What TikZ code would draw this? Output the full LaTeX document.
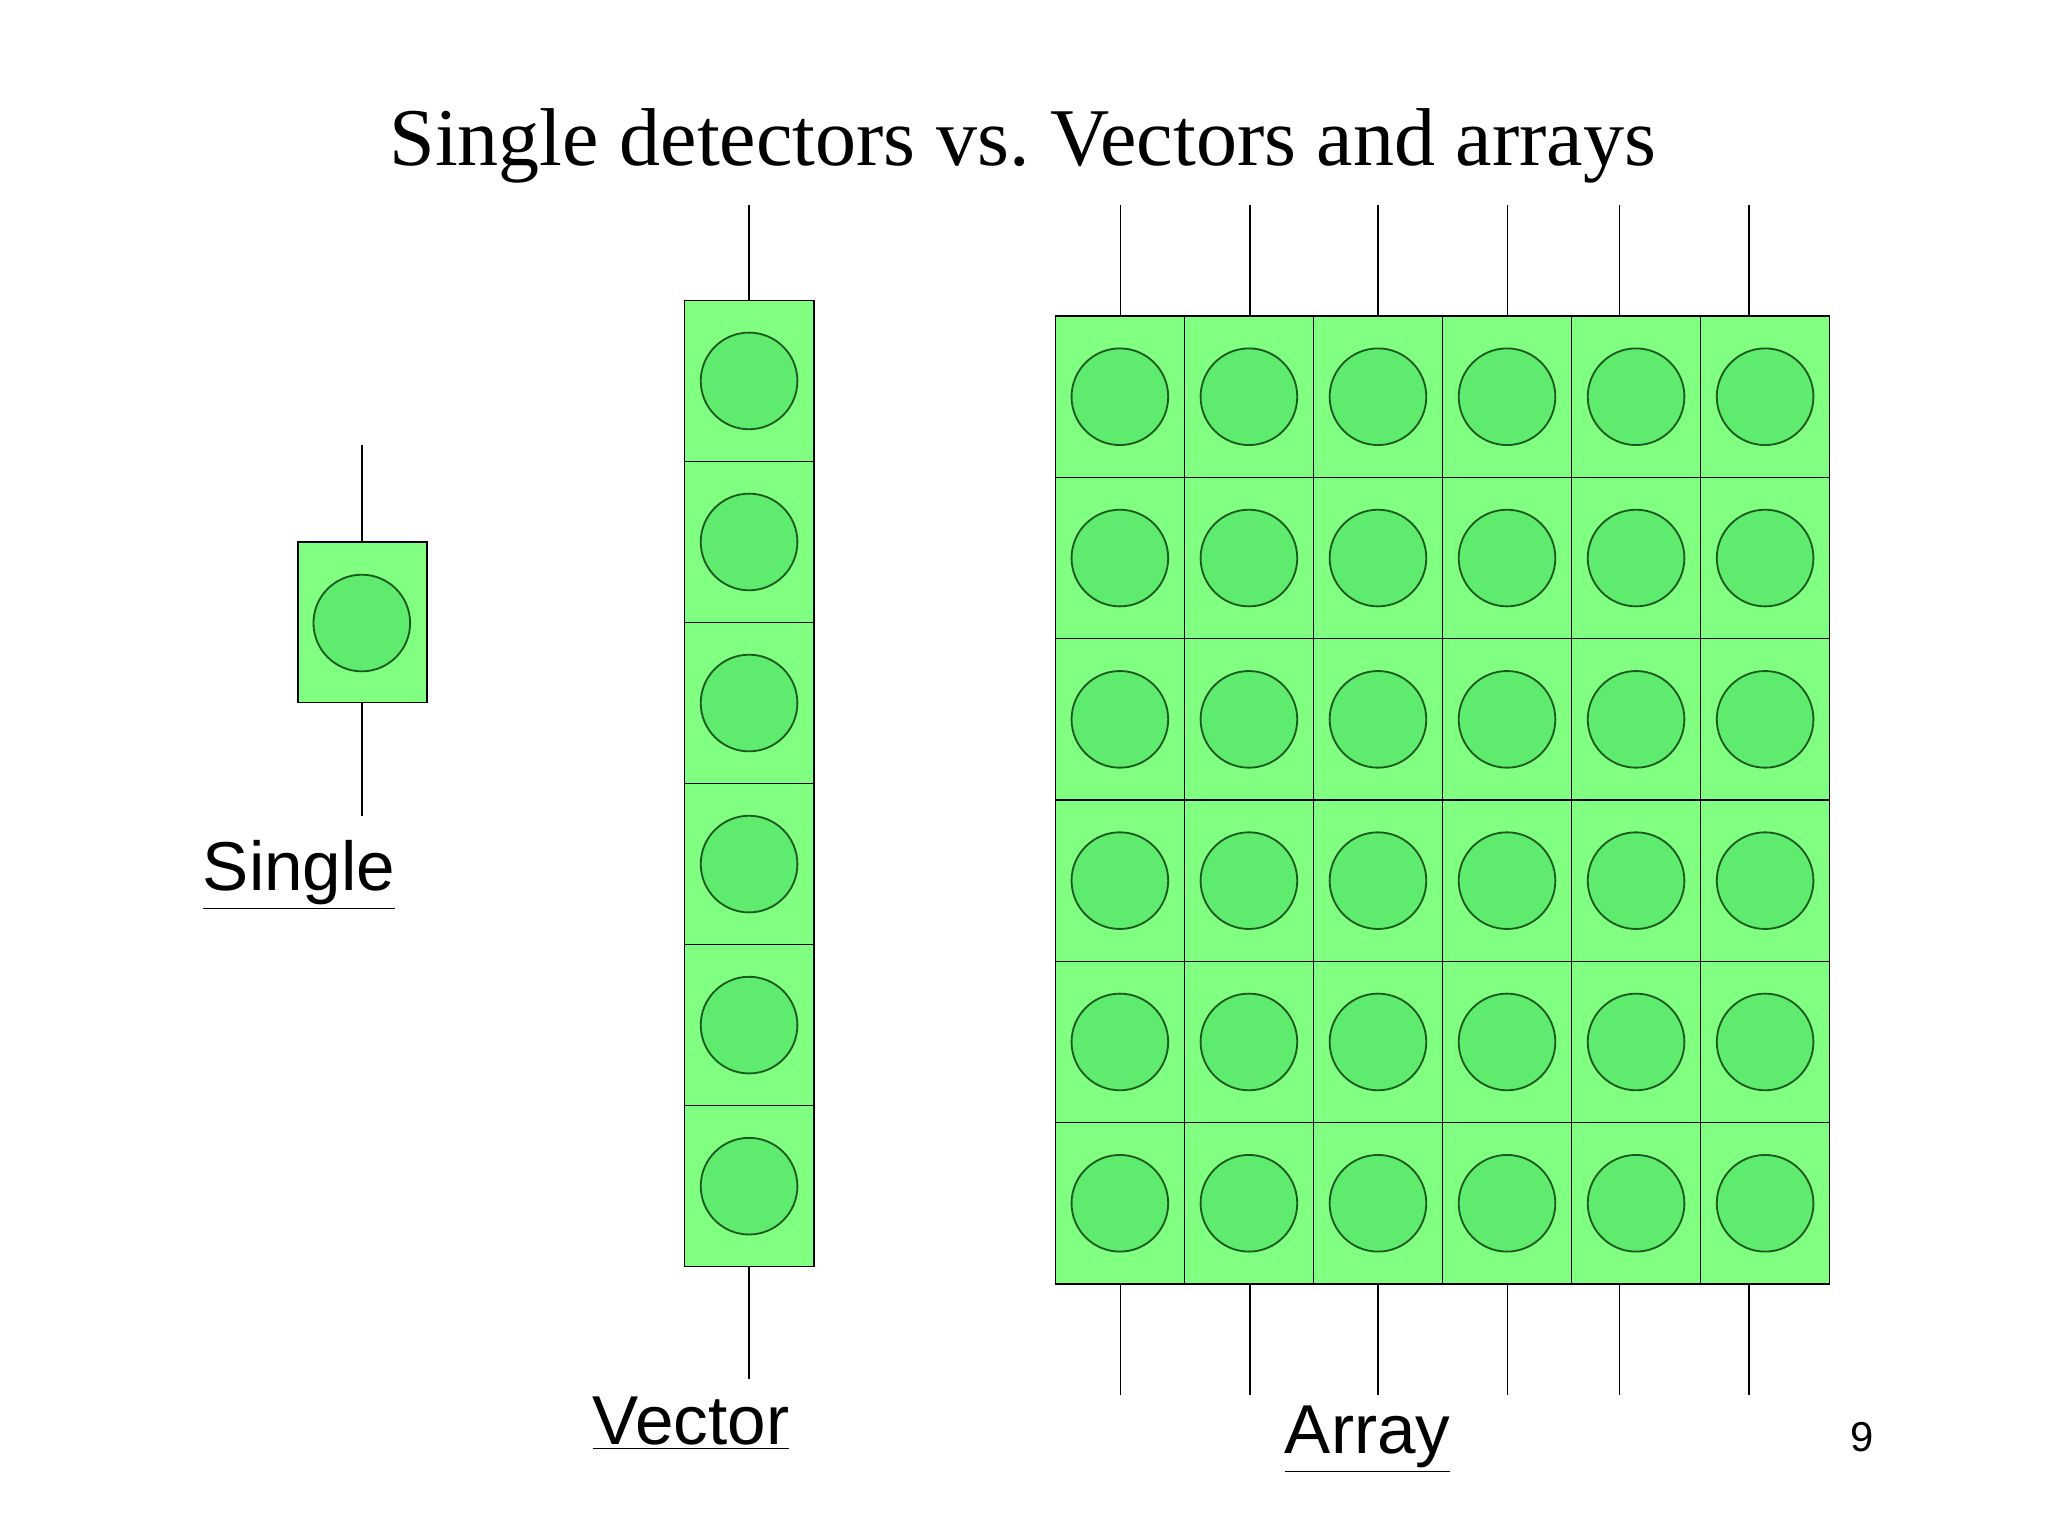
\documentclass[tikz,border=0pt]{standalone}
\usepackage{fontspec}
\setmainfont{Liberation Serif}
\setsansfont{Liberation Sans}
\definecolor{sqg}{HTML}{80FF80}
\definecolor{cig}{HTML}{5EEB6E}
\definecolor{cib}{HTML}{1A5A20}
\newcommand{\ulbl}[1]{\underline{#1}}
\begin{document}
\begin{tikzpicture}[x=0.5pt,y=-0.5pt,
  cell/.style={draw=black,fill=sqg,line width=0.6pt},
  disc/.style={draw=cib,fill=cig,line width=0.7pt},
  wire/.style={draw=black,line width=0.6pt},
  lbl/.style={font=\sffamily\fontsize{26.5}{30}\selectfont,inner sep=0pt}]
\useasboundingbox (0,0) rectangle (1568,1176);
\fill[white] (0,0) rectangle (1568,1176);
\node[font=\fontsize{31.4}{36}\selectfont] (title) at (783,112) {Single detectors vs.\ Vectors and arrays};
% single
\draw[cell] (228,415) rectangle (327,538);
\draw[disc] (277,477) circle (37);
\coordinate (s1) at (277,341); \coordinate (s2) at (277,415);
\coordinate (s3) at (277,538); \coordinate (s4) at (277,625);
\draw[wire] (s1) -- (s2); \draw[wire] (s3) -- (s4);
\node[lbl] (single) at (229,670) {\ulbl{Single}};
% vector
\foreach \r in {0,...,5}{
  \draw[cell] (524,{230+123.3*\r}) rectangle (623,{230+123.3*(\r+1)});
  \draw[disc] (573.5,{230+123.3*(\r+0.5)}) circle (37);
}
\coordinate (v1) at (573.5,157); \coordinate (v2) at (573.5,230);
\coordinate (v3) at (573.5,970); \coordinate (v4) at (573.5,1056);
\draw[wire] (v1) -- (v2); \draw[wire] (v3) -- (v4);
\node[lbl] (vector) at (529,1090) {\ulbl{Vector}};
% array
\foreach \c in {0,...,5}{
  \foreach \r in {0,...,5}{
    \draw[cell] ({808+98.8*\c},{242+123.5*\r}) rectangle ({808+98.8*(\c+1)},{242+123.5*(\r+1)});
    \draw[disc] ({808+98.8*(\c+0.5)},{242+123.5*(\r+0.5)}) circle (37);
  }
}
\foreach \x in {858,957,1055,1154,1240,1339}{
  \coordinate (t1) at (\x,157); \coordinate (t2) at (\x,242);
  \coordinate (b1) at (\x,983); \coordinate (b2) at (\x,1068);
  \draw[wire] (t1) -- (t2); \draw[wire] (b1) -- (b2);
}
\node[lbl] (array) at (1047,1102) {\ulbl{Array}};
\node[font=\sffamily\fontsize{16}{18}\selectfont] (num) at (1426,1100) {9};
\end{tikzpicture}
\end{document}
